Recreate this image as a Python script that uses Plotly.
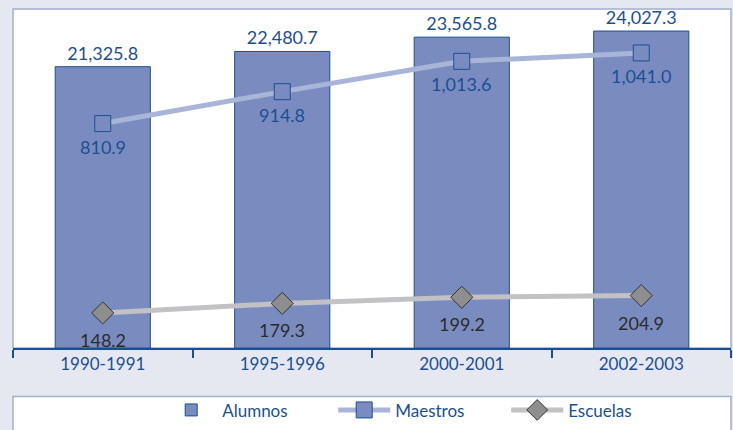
import plotly.graph_objects as go

categories = ["1990-1991", "1995-1996", "2000-2001", "2002-2003"]
alumnos = [21325.8, 22480.7, 23565.8, 24027.3]
maestros = [810.9, 914.8, 1013.6, 1041.0]
escuelas = [148.2, 179.3, 199.2, 204.9]

BLUE = "#1b4f94"
BAR = "#7a8cbf"
FONT = "Lato, 'Open Sans', sans-serif"

def fmt(v):
    return f"{v:,.1f}"

fig = go.Figure()

fig.add_trace(go.Bar(
    x=categories, y=alumnos, name="Alumnos",
    marker=dict(color=BAR, line=dict(color=BLUE, width=1)),
    width=0.53,
    text=[fmt(v) for v in alumnos], textposition="outside",
    textfont=dict(color=BLUE, size=18, family=FONT),
    cliponaxis=False,
))

fig.add_trace(go.Scatter(
    x=categories, y=maestros, name="Maestros", yaxis="y2",
    mode="lines+markers",
    line=dict(color="#a9b4d9", width=5),
    marker=dict(symbol="square", size=16, color=BAR, line=dict(color=BLUE, width=1)),
    cliponaxis=False,
))

fig.add_trace(go.Scatter(
    x=categories, y=escuelas, name="Escuelas", yaxis="y3",
    mode="lines+markers",
    line=dict(color="#c2c2c4", width=5),
    marker=dict(symbol="diamond", size=17, color="#8e8e8e", line=dict(color="#333333", width=1)),
    cliponaxis=False,
))

annotations = []
for c, v in zip(categories, maestros):
    annotations.append(dict(x=c, y=v, xref="x", yref="y2", text=fmt(v), showarrow=False,
                            yshift=-23, font=dict(color=BLUE, size=18, family=FONT)))
for c, v in zip(categories, escuelas):
    annotations.append(dict(x=c, y=v, xref="x", yref="y3", text=fmt(v), showarrow=False,
                            yshift=-27, font=dict(color="#2b2b2b", size=18, family=FONT)))

fig.update_layout(
    width=733, height=430,
    margin=dict(l=13, r=2, t=9, b=79),
    paper_bgcolor="#e5e8f0",
    plot_bgcolor="white",
    font=dict(family=FONT, color=BLUE, size=16),
    showlegend=True,
    xaxis=dict(
        type="category", range=[-0.5, 3.5], automargin=False,
        showline=True, linecolor=BLUE, linewidth=1.5,
        ticks="outside", tickson="boundaries", ticklen=8, tickcolor=BLUE, tickwidth=1.5,
        showgrid=False, tickfont=dict(size=17, color=BLUE, family=FONT),
    ),
    xaxis2=dict(
        overlaying="x", anchor="y", range=[-0.5, 3.5], automargin=False,
        tickvals=[-0.5, 0.5, 1.5, 2.5, 3.5],
        ticks="inside", ticklen=8, tickcolor=BLUE, tickwidth=1.5,
        showticklabels=False, showline=False, showgrid=False, zeroline=False,
    ),
    yaxis=dict(range=[0, 25700], visible=False),
    yaxis2=dict(range=[79.7, 1184.1], overlaying="y", visible=False),
    yaxis3=dict(range=[33.7, 1140.5], overlaying="y", visible=False),
    legend=dict(
        orientation="h", x=0.205, xanchor="left", y=-0.184, yanchor="middle",
        bgcolor="rgba(0,0,0,0)", font=dict(size=17, family=FONT),
        itemwidth=52, entrywidth=106, entrywidthmode="pixels",
    ),
    annotations=annotations,
    shapes=[
        dict(type="rect", xref="paper", yref="paper", x0=0, x1=1, y0=0, y1=1,
             line=dict(color="#a3aed0", width=1.5), layer="below"),
        dict(type="rect", xref="paper", yref="paper", x0=0, x1=1, y0=-0.143, y1=-0.30,
             line=dict(color="#a3aed0", width=1.5), fillcolor="white", layer="below"),
    ],
)

fig.write_html("out.html", config={"displayModeBar": False},
               post_script="document.body.style.margin='0';document.body.style.overflow='hidden';")
